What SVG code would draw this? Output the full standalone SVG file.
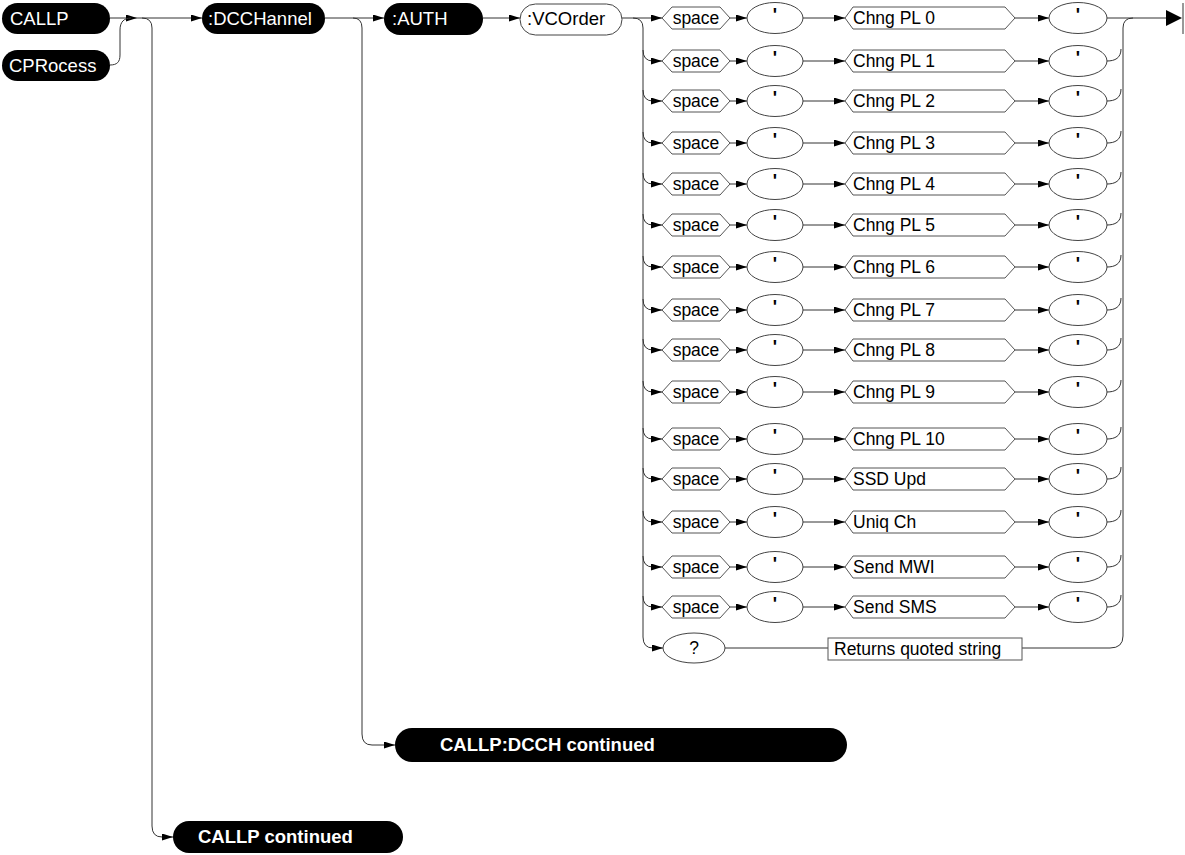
<svg xmlns="http://www.w3.org/2000/svg" width="1185" height="855" viewBox="0 0 1185 855">
<defs>
<marker id="ah" markerUnits="userSpaceOnUse" markerWidth="12" markerHeight="8" refX="11" refY="3.5" orient="auto"><path d="M0,0 L11,3.5 L0,7 z" fill="#000"/></marker>
<style>
.ln{fill:none;stroke:#333;stroke-width:1}
.ar{fill:none;stroke:#333;stroke-width:1;marker-end:url(#ah)}
.blk{fill:#000}
.wp{fill:#fff;stroke:#444;stroke-width:1}
.hx{fill:#fff;stroke:#555;stroke-width:1}
.tw{font-family:"Liberation Sans",Arial,sans-serif;font-size:18.5px;fill:#fff}
.tb{font-family:"Liberation Sans",Arial,sans-serif;font-size:18.5px;font-weight:bold;fill:#fff}
.t{font-family:"Liberation Sans",Arial,sans-serif;font-size:17.5px;fill:#000}
.tm{font-family:"Liberation Sans",Arial,sans-serif;font-size:17.5px;fill:#000;text-anchor:middle}
.q{font-family:"Liberation Sans",Arial,sans-serif;font-size:18px;font-weight:bold;fill:#000;text-anchor:middle}
</style>
<g id="rowtpl">
<polygon class="hx" points="662,0 672,-11 720,-11 730,0 720,11 672,11"/>
<text class="tm" x="696" y="6">space</text>
<path class="ar" d="M730,0 H747"/>
<ellipse class="wp" cx="775" cy="0" rx="28" ry="15.5"/>
<text class="q" x="775" y="3">'</text>
<path class="ar" d="M803,0 H845"/>
<path class="ar" d="M1015,0 H1049"/>
<ellipse class="wp" cx="1078" cy="0" rx="29" ry="15.5"/>
<text class="q" x="1078" y="3">'</text>
</g>
</defs>

<g id="connectors">
<path class="ar" d="M110,18 H137"/>
<path class="ln" d="M110,65 C117,65 120,62 120,55 V30 C120,22 124,18 131,18"/>
<path class="ar" d="M137,18 H202"/>
<path class="ln" d="M142,18 Q152,18 152,28 V826 Q152,837 162,837"/>
<path class="ar" d="M162,837 H173"/>
<path class="ar" d="M325,18 H384"/>
<path class="ln" d="M353,18 Q362,18 362,28 V734 Q362,745 372,745"/>
<path class="ar" d="M372,745 H395"/>
<path class="ar" d="M483,18 H520"/>
<path class="ar" d="M622,18 H662"/>
<path class="ln" d="M633,18 Q643,18 643,28 V637 Q643,648 653,648"/>
<path class="ar" d="M653,648 H663"/>
<path class="ln" d="M725,648 H828"/>
<path class="ln" d="M1022,648 H1110 Q1123,648 1123,636 V28 Q1123,18 1133,18"/>
<path class="ln" d="M1107,18 H1168"/>
<polygon points="1166,10 1182,18 1166,26" fill="#000"/>
<path class="ln" d="M1183,3 V34" stroke="#000"/>
</g>

<g id="CALLP"><rect class="blk" x="2" y="3" width="108" height="31" rx="15.5"/><text class="tw" x="10" y="25">CALLP</text></g>
<g id="CPRocess"><rect class="blk" x="2" y="50" width="108" height="31" rx="15.5"/><text class="tw" x="9" y="72">CPRocess</text></g>
<g id="DCCHannel"><rect class="blk" x="202" y="3" width="123" height="31" rx="15.5"/><text class="tw" x="208" y="25">:DCCHannel</text></g>
<g id="AUTH"><rect class="blk" x="384" y="3" width="99" height="32" rx="16"/><text class="tw" x="392" y="25">:AUTH</text></g>
<g id="VCOrder"><rect class="wp" x="520" y="4" width="102" height="31" rx="15.5"/><text class="t" x="527" y="25" style="font-size:18.5px">:VCOrder</text></g>

<g id="row0" transform="translate(0,18)"><use href="#rowtpl"/><polygon class="hx" points="845,0 853,-11 1005,-11 1015,0 1005,11 853,11"/><text class="t" x="853" y="6">Chng PL 0</text></g>
<g id="row1" transform="translate(0,61)"><use href="#rowtpl"/><path class="ar" d="M643,-11 Q643,0 653,0 H662"/><path class="ln" d="M1107,0 C1115,0 1121,-3 1121,-12"/><polygon class="hx" points="845,0 853,-11 1005,-11 1015,0 1005,11 853,11"/><text class="t" x="853" y="6">Chng PL 1</text></g>
<g id="row2" transform="translate(0,101)"><use href="#rowtpl"/><path class="ar" d="M643,-11 Q643,0 653,0 H662"/><path class="ln" d="M1107,0 C1115,0 1121,-3 1121,-12"/><polygon class="hx" points="845,0 853,-11 1005,-11 1015,0 1005,11 853,11"/><text class="t" x="853" y="6">Chng PL 2</text></g>
<g id="row3" transform="translate(0,143)"><use href="#rowtpl"/><path class="ar" d="M643,-11 Q643,0 653,0 H662"/><path class="ln" d="M1107,0 C1115,0 1121,-3 1121,-12"/><polygon class="hx" points="845,0 853,-11 1005,-11 1015,0 1005,11 853,11"/><text class="t" x="853" y="6">Chng PL 3</text></g>
<g id="row4" transform="translate(0,184)"><use href="#rowtpl"/><path class="ar" d="M643,-11 Q643,0 653,0 H662"/><path class="ln" d="M1107,0 C1115,0 1121,-3 1121,-12"/><polygon class="hx" points="845,0 853,-11 1005,-11 1015,0 1005,11 853,11"/><text class="t" x="853" y="6">Chng PL 4</text></g>
<g id="row5" transform="translate(0,225)"><use href="#rowtpl"/><path class="ar" d="M643,-11 Q643,0 653,0 H662"/><path class="ln" d="M1107,0 C1115,0 1121,-3 1121,-12"/><polygon class="hx" points="845,0 853,-11 1005,-11 1015,0 1005,11 853,11"/><text class="t" x="853" y="6">Chng PL 5</text></g>
<g id="row6" transform="translate(0,267)"><use href="#rowtpl"/><path class="ar" d="M643,-11 Q643,0 653,0 H662"/><path class="ln" d="M1107,0 C1115,0 1121,-3 1121,-12"/><polygon class="hx" points="845,0 853,-11 1005,-11 1015,0 1005,11 853,11"/><text class="t" x="853" y="6">Chng PL 6</text></g>
<g id="row7" transform="translate(0,310)"><use href="#rowtpl"/><path class="ar" d="M643,-11 Q643,0 653,0 H662"/><path class="ln" d="M1107,0 C1115,0 1121,-3 1121,-12"/><polygon class="hx" points="845,0 853,-11 1005,-11 1015,0 1005,11 853,11"/><text class="t" x="853" y="6">Chng PL 7</text></g>
<g id="row8" transform="translate(0,350)"><use href="#rowtpl"/><path class="ar" d="M643,-11 Q643,0 653,0 H662"/><path class="ln" d="M1107,0 C1115,0 1121,-3 1121,-12"/><polygon class="hx" points="845,0 853,-11 1005,-11 1015,0 1005,11 853,11"/><text class="t" x="853" y="6">Chng PL 8</text></g>
<g id="row9" transform="translate(0,392)"><use href="#rowtpl"/><path class="ar" d="M643,-11 Q643,0 653,0 H662"/><path class="ln" d="M1107,0 C1115,0 1121,-3 1121,-12"/><polygon class="hx" points="845,0 853,-11 1005,-11 1015,0 1005,11 853,11"/><text class="t" x="853" y="6">Chng PL 9</text></g>
<g id="row10" transform="translate(0,439)"><use href="#rowtpl"/><path class="ar" d="M643,-11 Q643,0 653,0 H662"/><path class="ln" d="M1107,0 C1115,0 1121,-3 1121,-12"/><polygon class="hx" points="845,0 853,-11 1005,-11 1015,0 1005,11 853,11"/><text class="t" x="853" y="6">Chng PL 10</text></g>
<g id="row11" transform="translate(0,479)"><use href="#rowtpl"/><path class="ar" d="M643,-11 Q643,0 653,0 H662"/><path class="ln" d="M1107,0 C1115,0 1121,-3 1121,-12"/><polygon class="hx" points="845,0 853,-11 1005,-11 1015,0 1005,11 853,11"/><text class="t" x="853" y="6">SSD Upd</text></g>
<g id="row12" transform="translate(0,522)"><use href="#rowtpl"/><path class="ar" d="M643,-11 Q643,0 653,0 H662"/><path class="ln" d="M1107,0 C1115,0 1121,-3 1121,-12"/><polygon class="hx" points="845,0 853,-11 1005,-11 1015,0 1005,11 853,11"/><text class="t" x="853" y="6">Uniq Ch</text></g>
<g id="row13" transform="translate(0,567)"><use href="#rowtpl"/><path class="ar" d="M643,-11 Q643,0 653,0 H662"/><path class="ln" d="M1107,0 C1115,0 1121,-3 1121,-12"/><polygon class="hx" points="845,0 853,-11 1005,-11 1015,0 1005,11 853,11"/><text class="t" x="853" y="6">Send MWI</text></g>
<g id="row14" transform="translate(0,607)"><use href="#rowtpl"/><path class="ar" d="M643,-11 Q643,0 653,0 H662"/><path class="ln" d="M1107,0 C1115,0 1121,-3 1121,-12"/><polygon class="hx" points="845,0 853,-11 1005,-11 1015,0 1005,11 853,11"/><text class="t" x="853" y="6">Send SMS</text></g>

<g id="query"><ellipse class="wp" cx="694" cy="648" rx="31" ry="15"/><text class="tm" x="694" y="654">?</text></g>
<g id="returns"><rect x="828" y="638" width="194" height="22" fill="#fff" stroke="#555"/><text class="t" x="834" y="655">Returns quoted string</text></g>

<g id="dcchcont"><rect class="blk" x="395" y="728" width="452" height="34" rx="17"/><text class="tb" x="440" y="751">CALLP:DCCH continued</text></g>
<g id="callpcont"><rect class="blk" x="173" y="821" width="230" height="32" rx="16"/><text class="tb" x="198" y="843">CALLP continued</text></g>
</svg>
